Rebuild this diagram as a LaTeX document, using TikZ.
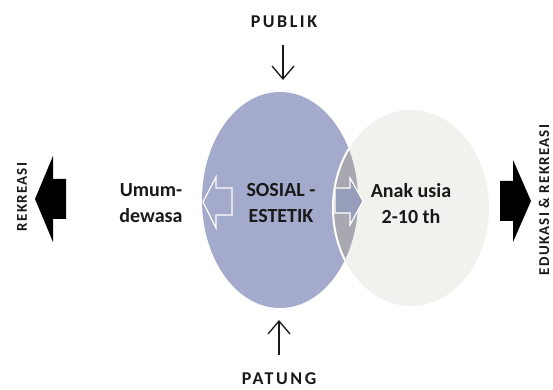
\documentclass[tikz,border=0pt]{standalone}
\usepackage{fontspec}
\setmainfont{Carlito}
\newfontfamily\spacedfont[LetterSpace=14, UprightFont={* Bold}, BoldFont={* Bold}]{Carlito}
\newfontfamily\vertfont[LetterSpace=8, UprightFont={* Bold}, BoldFont={* Bold}]{Carlito}
\usetikzlibrary{arrows.meta}
\definecolor{blueF}{RGB}{163,170,203}
\definecolor{lightF}{RGB}{241,241,237}
\definecolor{overF}{RGB}{168,168,176}
\definecolor{arrowF}{RGB}{150,158,185}
\definecolor{inkC}{RGB}{25,25,25}
\begin{document}
\begin{tikzpicture}[x=1pt,y=1pt,
  lab/.style={font=\bfseries\fontsize{20}{26}\selectfont, align=center, inner sep=0pt, text=inkC},
  spc/.style={font=\spacedfont\fontsize{18}{20}\selectfont, inner sep=0pt, text=inkC},
  vert/.style={font=\vertfont\fontsize{15}{17}\selectfont, rotate=90, inner sep=0pt, text=inkC},
  thinarrow/.style={line width=1.3pt, draw=inkC, -{Straight Barb[length=13pt,width=22pt,line width=1.3pt]}},
  hollow/.style={draw=white, line width=1.2pt, line join=miter},
  solidarrow/.style={fill=black}
]
\fill[white] (0,0) rectangle (553,390);
\useasboundingbox (0,0) rectangle (553,390);

% circles
\coordinate (bc) at (280,190);
\coordinate (lc) at (411,182);
\fill[blueF] (bc) ellipse [x radius=78pt, y radius=108pt];
\fill[lightF] (lc) ellipse [x radius=78pt, y radius=98pt];
\begin{scope}
  \clip (bc) ellipse [x radius=78pt, y radius=108pt];
  \fill[overF] (lc) ellipse [x radius=78pt, y radius=98pt];
  \draw[white, line width=2pt] (lc) ellipse [x radius=78pt, y radius=98pt];
\end{scope}

% inner arrows
\filldraw[hollow, fill=blueF] (203,188) -- (216,213) -- (216,202) -- (232,202) -- (232,175) -- (216,175) -- (216,162) -- cycle;
\filldraw[hollow, fill=arrowF] (363,189) -- (350,212) -- (350,202) -- (335,202) -- (335,177) -- (350,177) -- (350,165) -- cycle;

% outer black arrows
\fill[solidarrow] (35,191) -- (53,234) -- (53,211) -- (66,211) -- (66,171) -- (53,171) -- (53,148) -- cycle;
\fill[solidarrow] (531,189) -- (513,230) -- (513,209) -- (500,209) -- (500,169) -- (513,169) -- (513,148) -- cycle;

% labels
\node[lab] (umum) at (151,186.5) {Umum-\\dewasa};
\node[lab] (sosial) at (281,186.5) {SOSIAL -\\ESTETIK};
\node[lab] (anak) at (411,186.5) {Anak usia\\2-10 th};

\node[spc] (publik) at (284,368) {PUBLIK};
\node[spc] (patung) at (279,11) {PATUNG};
\node[vert] (rek) at (22,193) {REKREASI};
\node[vert] (edu) at (544,190) {EDUKASI \& REKREASI};

% top / bottom arrows
\coordinate (pa) at (283,345);
\coordinate (pb) at (283,310);
\coordinate (qa) at (279,35);
\coordinate (qb) at (279,70);
\draw[thinarrow] (pa) -- (pb);
\draw[thinarrow] (qa) -- (qb);
\end{tikzpicture}
\end{document}
